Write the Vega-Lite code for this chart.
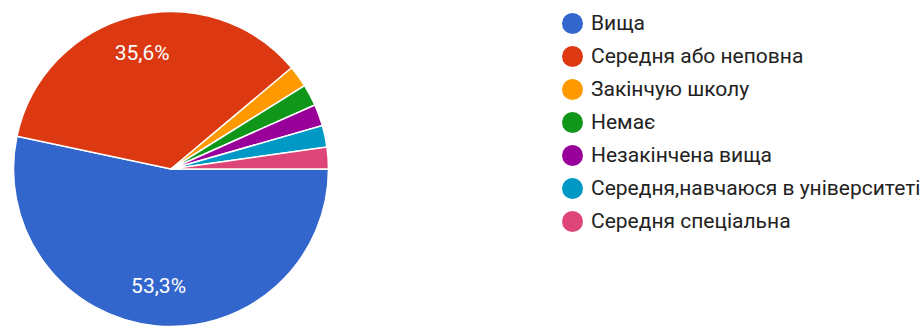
{
  "$schema": "https://vega.github.io/schema/vega-lite/v6.json",
  "autosize": "none",
  "width": 316,
  "height": 316,
  "padding": {"left": 13, "top": 11, "right": 595, "bottom": 0},
  "background": "white",
  "config": {"view": {"stroke": null}, "font": "Roboto"},
  "data": {
    "values": [
      {"category": "Вища", "count": 24, "order": 1, "label": "53,3%"},
      {"category": "Середня або неповна", "count": 16, "order": 2, "label": "35,6%"},
      {"category": "Закінчую школу", "count": 1, "order": 3, "label": ""},
      {"category": "Немає", "count": 1, "order": 4, "label": ""},
      {"category": "Незакінчена вища", "count": 1, "order": 5, "label": ""},
      {"category": "Середня,навчаюся в університеті", "count": 1, "order": 6, "label": ""},
      {"category": "Середня спеціальна", "count": 1, "order": 7, "label": ""}
    ]
  },
  "encoding": {
    "theta": {"field": "count", "type": "quantitative", "stack": true, "scale": {"range": [1.5708, 7.854]}},
    "order": {"field": "order", "type": "quantitative"},
    "color": {
      "field": "category",
      "type": "nominal",
      "scale": {
        "domain": ["Вища", "Середня або неповна", "Закінчую школу", "Немає", "Незакінчена вища", "Середня,навчаюся в університеті", "Середня спеціальна"],
        "range": ["#3366cc", "#dc3912", "#ff9900", "#109618", "#990099", "#0099c6", "#dd4477"]
      },
      "legend": {
        "title": null,
        "orient": "none",
        "legendX": 549,
        "legendY": 2,
        "symbolType": "circle",
        "symbolSize": 441,
        "symbolStrokeWidth": 0,
        "symbolOpacity": 1,
        "labelFont": "Roboto",
        "labelFontSize": 21,
        "labelColor": "#222222",
        "labelOffset": 8,
        "labelLimit": 400,
        "rowPadding": 11,
        "padding": 0
      }
    }
  },
  "layer": [
    {"mark": {"type": "arc", "outerRadius": 157.5, "stroke": "white", "strokeWidth": 1.5}},
    {
      "mark": {"type": "text", "radius": 119, "fontSize": 21, "font": "Roboto", "fill": "white", "baseline": "middle", "align": "center"},
      "encoding": {"text": {"field": "label", "type": "nominal"}, "color": {"value": "white"}}
    }
  ]
}
